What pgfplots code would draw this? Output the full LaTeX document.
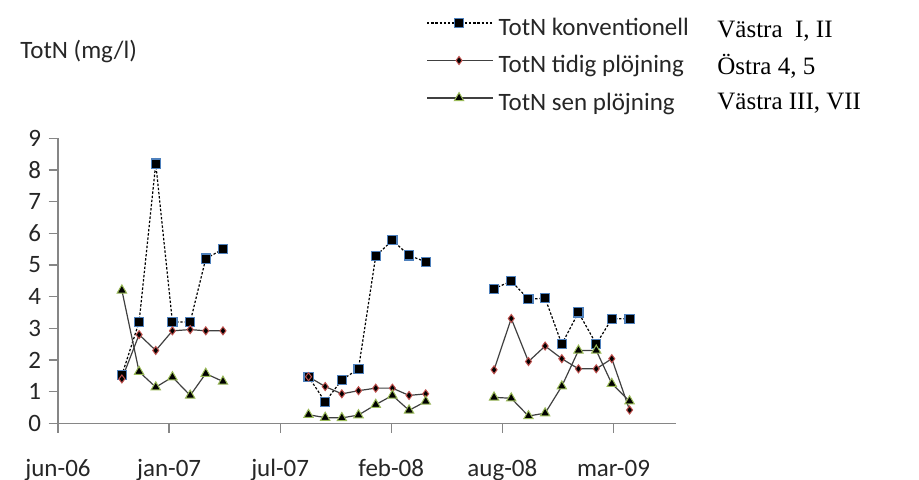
\documentclass[border=0pt]{standalone}
\usepackage{fontspec}
\setmainfont{Carlito}
\newfontfamily\timesfont{Liberation Serif}
\usepackage{pgfplots}
\pgfplotsset{compat=1.18}
\definecolor{axisgray}{HTML}{868686}
\definecolor{linegray}{HTML}{404040}
\definecolor{mblue}{HTML}{4F81BD}
\definecolor{mred}{HTML}{C0504D}
\definecolor{mgreen}{HTML}{9BBB59}
\begin{document}
\begin{tikzpicture}
\useasboundingbox (-29pt,-28.35pt) rectangle (430.5pt,211.65pt);
\begin{axis}[
  scale only axis, width=309pt, height=142.5pt,
  at={(0,0)}, anchor=south west,
  xmin=0, xmax=1112.6, ymin=0, ymax=9,
  axis x line*=bottom, axis y line*=left,
  axis line style={color=axisgray, line width=0.6pt},
  xtick={0,200,...,1000},
  xticklabels={jun-06,jan-07,jul-07,feb-08,aug-08,mar-09},
  ytick={0,1,...,9},
  tick align=outside, major tick length=4.75pt,
  tick style={color=axisgray, line width=0.6pt},
  /pgf/number format/assume math mode=true,
  font=\fontsize{12.5}{15}\selectfont,
  ticklabel style={font=\fontsize{12.5}{15}\selectfont, text=black!85},
  xticklabel style={anchor=base, yshift=-22pt},
  yticklabel style={anchor=east, inner sep=0pt, xshift=-3.5pt},
  unbounded coords=jump,
  clip=false,
  legend style={draw=none, fill=none, at={(0.5955,1.273)}, anchor=west,
    inner xsep=0pt, inner ysep=0pt, row sep=6.75pt, column sep=2.5pt,
    nodes={inner sep=0pt, text height=12pt, text depth=0pt},
    font=\fontsize{12.5}{15}\selectfont, text=black!85},
  legend cell align=left,
  legend image code/.code={\draw[mark repeat=2,mark phase=2,#1] plot coordinates {(0pt,0pt)(16pt,0pt)(33pt,0pt)};},
]
\addplot[black, line width=0.6pt, dash pattern=on 1.2pt off 0.9pt,
  mark=square*, mark size=2.3pt,
  mark options={solid, fill=black, draw=mblue, line width=0.6pt}]
coordinates {
(115,1.52)(146,3.2)(176,8.2)(206,3.2)(238,3.2)(266,5.2)(297,5.5)
(350,nan)
(451,1.47)(481,0.68)(511,1.37)(541,1.72)(572,5.28)(602,5.78)(632,5.3)(662,5.1)
(720,nan)
(785,4.25)(816,4.49)(847,3.92)(877,3.95)(907,2.5)(937,3.5)(969,2.5)(997,3.3)(1029,3.3)
};
\addlegendentry{TotN konventionell}
\addplot[linegray, line width=0.6pt,
  mark=diamond*, mark size=2pt,
  mark options={solid, fill=black, draw=mred, line width=0.5pt}]
coordinates {
(115,1.4)(146,2.8)(176,2.3)(206,2.92)(238,2.96)(266,2.92)(297,2.92)
(350,nan)
(451,1.47)(481,1.16)(511,0.93)(541,1.03)(572,1.11)(602,1.11)(632,0.88)(662,0.93)
(720,nan)
(785,1.69)(816,3.31)(847,1.95)(877,2.44)(907,2.04)(937,1.72)(969,1.72)(997,2.04)(1029,0.42)
};
\addlegendentry{TotN tidig plöjning}
\addplot[linegray, line width=0.6pt,
  mark=triangle*, mark size=2.7pt,
  mark options={solid, fill=black, draw=mgreen, line width=0.5pt}]
coordinates {
(115,4.2)(146,1.63)(176,1.14)(206,1.46)(238,0.88)(266,1.57)(297,1.32)
(350,nan)
(451,0.27)(481,0.18)(511,0.17)(541,0.26)(572,0.59)(602,0.88)(632,0.41)(662,0.69)
(720,nan)
(785,0.82)(816,0.79)(847,0.23)(877,0.32)(907,1.17)(937,2.3)(969,2.3)(997,1.25)(1029,0.7)
};
\addlegendentry{TotN sen plöjning}
\node[anchor=base west, inner sep=0pt, text=black!85, font=\fontsize{12.5}{15}\selectfont] at (rel axis cs:-0.0615,1.279) {TotN (mg/l)};
\node[anchor=base west, inner sep=0pt, font=\timesfont\fontsize{12.5}{15}\selectfont] at (rel axis cs:1.0663,1.3554) {Västra\ \ I, II};
\node[anchor=base west, inner sep=0pt, font=\timesfont\fontsize{12.5}{15}\selectfont] at (rel axis cs:1.0663,1.2256) {Östra 4, 5};
\node[anchor=base west, inner sep=0pt, font=\timesfont\fontsize{12.5}{15}\selectfont] at (rel axis cs:1.0663,1.1028) {Västra III, VII};
\end{axis}
\end{tikzpicture}
\end{document}
